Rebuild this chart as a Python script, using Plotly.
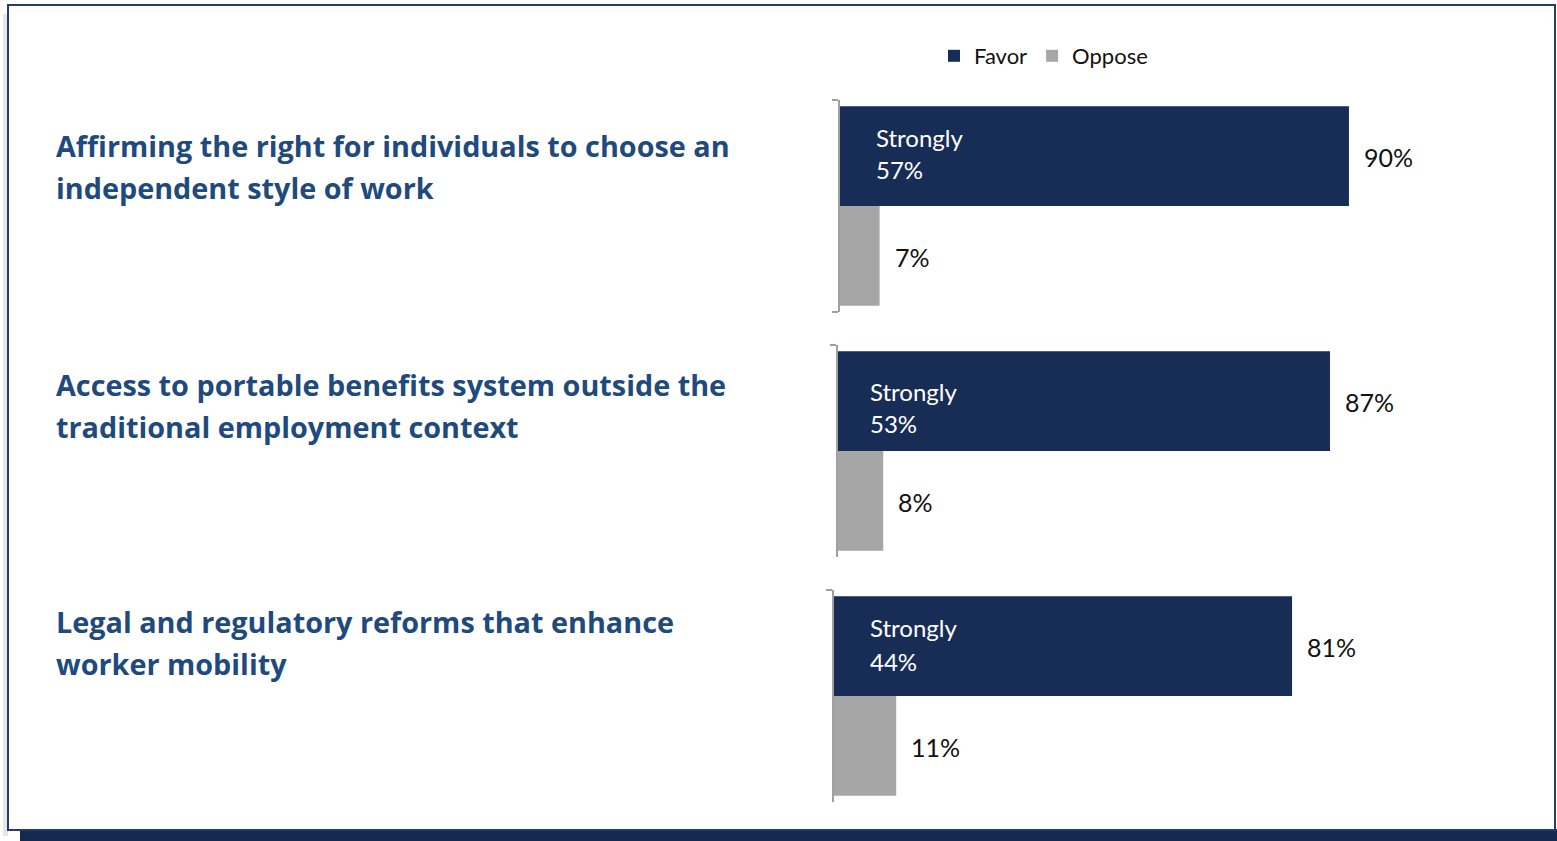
import plotly.graph_objects as go

# ---------------- data ----------------
statements = [
    ["Affirming the right for individuals to choose an", "independent style of work"],
    ["Access to portable benefits system outside the", "traditional employment context"],
    ["Legal and regulatory reforms that enhance", "worker mobility"],
]
favor = [90, 87, 81]
strongly = [57, 53, 44]
oppose = [7, 8, 11]
series_names = ["Favor", "Oppose"]

# ---------------- layout constants ----------------
W, H = 1557, 841
NAVY = "#182d56"
GRAY = "#a6a6a6"
AXIS = "#a0a0a0"
TXT_BLUE = "#1f4a7d"
FONT = "Lato"
QFONT = "Open Sans"
PX_PER_PCT = 5.655
x_start_px = [840, 838, 834]            # baseline of each panel
y_top_px = [100, 345, 590]              # top of each panel's axis bracket
panel_h_px = 212
strong_dx = [36, 32, 36]                # offset of "Strongly" label from baseline
strong_dy = [0.821, 0.783, 0.821]       # y-domain fraction of "Strongly" line
pct_dy = [0.670, 0.632, 0.665]          # y-domain fraction of the strongly-percent line
q_line_px = [[145, 187], [384, 426], [621, 663]]

fig = go.Figure()
annotations = []
layout_axes = {}

for i in range(3):
    n = "" if i == 0 else str(i + 1)
    xa, ya = "x" + n, "y" + n
    cat = ["Q%d" % (i + 1)]
    # Oppose first so that Favor is drawn on top inside the group
    fig.add_trace(go.Bar(
        x=[oppose[i]], y=cat, orientation="h", name=series_names[1],
        marker=dict(color=GRAY, line=dict(width=0)), xaxis=xa, yaxis=ya,
        showlegend=(i == 0), legendrank=2, hoverinfo="skip"))
    fig.add_trace(go.Bar(
        x=[favor[i]], y=cat, orientation="h", name=series_names[0],
        marker=dict(color=NAVY, line=dict(width=0)), xaxis=xa, yaxis=ya,
        showlegend=(i == 0), legendrank=1, hoverinfo="skip"))

    x0 = x_start_px[i] / W
    x1 = (x_start_px[i] + 100 * PX_PER_PCT) / W
    y1 = 1 - y_top_px[i] / H
    y0 = 1 - (y_top_px[i] + panel_h_px) / H
    layout_axes["xaxis" + n] = dict(domain=[x0, x1], range=[0, 100], visible=False,
                                    anchor=ya, fixedrange=True)
    layout_axes["yaxis" + n] = dict(domain=[y0, y1], type="category", range=[-0.5, 0.5],
                                    anchor=xa, showline=True, linecolor=AXIS, linewidth=2,
                                    ticks="outside", tickson="boundaries", ticklen=6,
                                    tickwidth=2, tickcolor=AXIS, showticklabels=False,
                                    showgrid=False, zeroline=False, fixedrange=True)

    ydom = ya + " domain"
    # inside labels of favor bar
    annotations.append(dict(x=0, y=strong_dy[i], xref=xa, yref=ydom, text="Strongly",
                            xanchor="left", yanchor="middle", xshift=strong_dx[i] - 2,
                            showarrow=False, font=dict(family=FONT, size=24, color="white")))
    annotations.append(dict(x=0, y=pct_dy[i], xref=xa, yref=ydom, text="%d%%" % strongly[i],
                            xanchor="left", yanchor="middle", xshift=strong_dx[i] - 2,
                            showarrow=False, font=dict(family=FONT, size=24, color="white")))
    # outside value labels
    annotations.append(dict(x=favor[i], y=0.73, xref=xa, yref=ydom, text="%d%%" % favor[i],
                            xanchor="left", yanchor="middle", xshift=13,
                            showarrow=False, font=dict(family=FONT, size=25, color="#111111")))
    annotations.append(dict(x=oppose[i], y=0.26, xref=xa, yref=ydom, text="%d%%" % oppose[i],
                            xanchor="left", yanchor="middle", xshift=13,
                            showarrow=False, font=dict(family=FONT, size=25, color="#111111")))
    # statement text
    for line, ypx in zip(statements[i], q_line_px[i]):
        annotations.append(dict(x=54 / W, y=1 - ypx / H, xref="paper", yref="paper",
                                text="<b>%s</b>" % line, xanchor="left", yanchor="middle",
                                showarrow=False,
                                font=dict(family=QFONT, size=28.8, color=TXT_BLUE)))

shapes = [
    # soft shadow on the left
    dict(type="rect", xref="paper", yref="paper", x0=3 / W, x1=8 / W, y0=1 - 836 / H,
         y1=1 - 14 / H, fillcolor="#e6e6e6", line=dict(width=0), layer="below"),
    # dark band at bottom
    dict(type="rect", xref="paper", yref="paper", x0=20 / W, x1=1, y0=0, y1=1 - 829 / H,
         fillcolor="#162a50", line=dict(width=0), layer="above"),
    # frame
    dict(type="rect", xref="paper", yref="paper", x0=8 / W, x1=1555 / W, y0=1 - 830 / H,
         y1=1 - 5 / H, fillcolor="rgba(0,0,0,0)", line=dict(color="#243d6b", width=2),
         layer="above"),
]

fig.update_layout(
    width=W, height=H, margin=dict(l=0, r=0, t=0, b=0),
    paper_bgcolor="white", plot_bgcolor="white",
    barmode="group", bargap=0.06, bargroupgap=0,
    font=dict(family=FONT, color="#111111"),
    showlegend=True,
    legend=dict(orientation="h", x=934 / W, y=1 - 56 / H, xanchor="left", yanchor="middle",
                font=dict(family=FONT, size=22, color="#111111"), itemwidth=30,
                traceorder="normal", bgcolor="rgba(0,0,0,0)"),
    annotations=annotations, shapes=shapes,
    **layout_axes,
)

fig.write_html("out.html", config={"displayModeBar": False},
               post_script="document.body.style.margin='0';")
